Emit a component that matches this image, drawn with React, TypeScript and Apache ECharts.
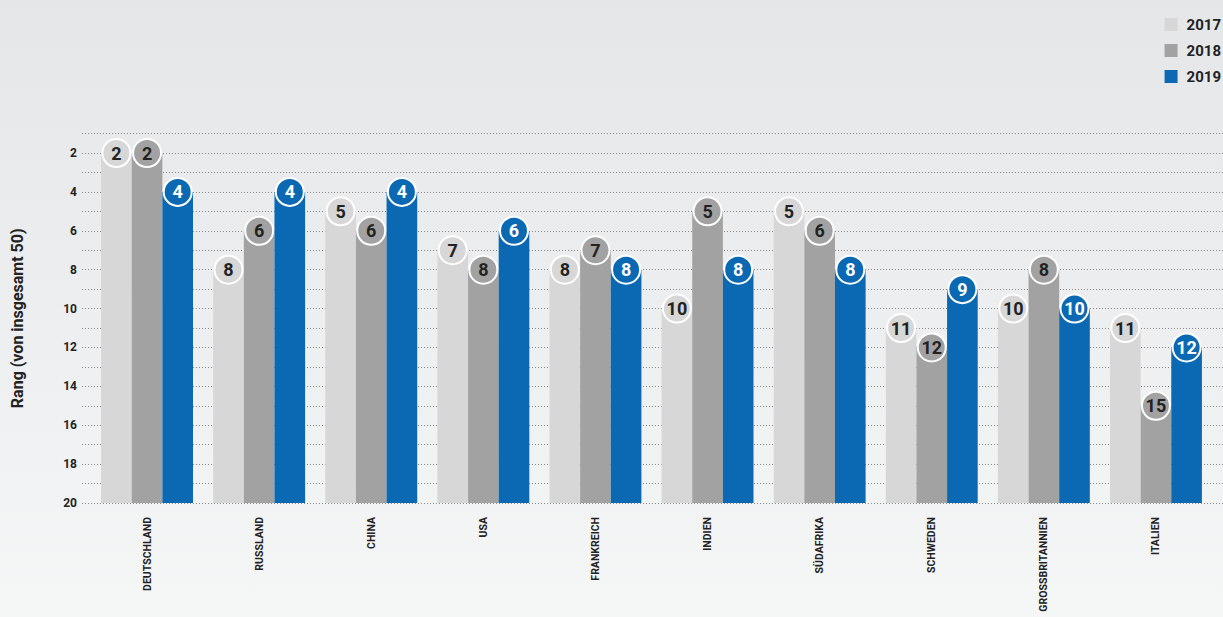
import React, { useEffect, useRef } from "react";
import * as echarts from "echarts";

const categories = ["DEUTSCHLAND", "RUSSLAND", "CHINA", "USA", "FRANKREICH", "INDIEN", "SÜDAFRIKA", "SCHWEDEN", "GROSSBRITANNIEN", "ITALIEN"];
const years = ["2017", "2018", "2019"];
const rank2017 = [2, 8, 5, 7, 8, 10, 5, 11, 10, 11];
const rank2018 = [2, 6, 6, 8, 7, 5, 6, 12, 8, 15];
const rank2019 = [4, 4, 4, 6, 8, 8, 8, 9, 10, 12];
const colors = ["#d7d7d7", "#a2a2a2", "#0b69b4"];
const labelColors = ["#222222", "#222222", "#ffffff"];
const MAX_RANK = 20;

const FONT = "Roboto, 'Liberation Sans', sans-serif";

export default function App() {
  const ref = useRef<HTMLDivElement>(null);
  useEffect(() => {
    if (!ref.current) return;
    const chart = echarts.init(ref.current, null, { renderer: "svg" });
    const ranks = [rank2017, rank2018, rank2019];
    const top = 133.6;
    const bottom = 114;
    const yBase = {
      type: "value",
      min: 0,
      max: MAX_RANK - 1,
      interval: 1,
    };
    chart.setOption({
      animation: false,
      backgroundColor: {
        type: "linear", x: 0, y: 0, x2: 0, y2: 1,
        colorStops: [
          { offset: 0, color: "#e5e6e8" },
          { offset: 1, color: "#f5f6f6" },
        ],
      },
      textStyle: { fontFamily: FONT },
      legend: {
        orient: "vertical",
        right: -3,
        top: 12,
        itemWidth: 13,
        itemHeight: 13,
        itemGap: 11,
        icon: "rect",
        data: years,
        textStyle: { fontFamily: FONT, fontWeight: "bold", fontSize: 15, color: "#222", padding: [0, 0, 0, 4] },
      },
      grid: [
        { left: 82, right: 0, top, bottom, outerBoundsMode: "none" },
        { left: 91, right: 11, top, bottom, outerBoundsMode: "none" },
      ],
      xAxis: [
        { type: "category", gridIndex: 0, data: categories, show: false },
        {
          type: "category",
          gridIndex: 1,
          data: categories,
          axisLine: { show: false },
          axisTick: { show: false },
          axisLabel: {
            rotate: 90,
            margin: 14,
            interval: 0,
            fontFamily: FONT,
            fontWeight: "bold",
            fontSize: 10.5,
            color: "#222",
          },
        },
      ],
      yAxis: [
        {
          ...yBase,
          gridIndex: 0,
          name: "Rang (von insgesamt 50)",
          nameLocation: "middle",
          nameGap: 57,
          nameTextStyle: { fontFamily: FONT, fontWeight: "bold", fontSize: 16, color: "#222" },
          axisLine: { show: false },
          axisTick: { show: false },
          axisLabel: {
            margin: 5,
            fontFamily: FONT,
            fontWeight: "bold",
            fontSize: 12,
            color: "#222",
            formatter: (v: number) => (Math.round(v) % 2 === 0 ? String(MAX_RANK - Math.round(v)) : ""),
          },
          splitLine: { show: true, lineStyle: { color: "#8a8a8a", width: 1, type: [1, 2] } },
        },
        {
          ...yBase,
          gridIndex: 1,
          show: false,
          splitLine: { show: false },
        },
      ],
      series: years.map((y, i) => ({
        name: y,
        type: "bar",
        xAxisIndex: 1,
        yAxisIndex: 1,
        barGap: "0%",
        barCategoryGap: "18%",
        itemStyle: { color: colors[i] },
        data: ranks[i].map((r) => MAX_RANK - r),
        label: {
          show: true,
          position: "top",
          distance: 0,
          formatter: (p: any) => String(ranks[i][p.dataIndex]),
          width: 26,
          height: 26,
          lineHeight: 26,
          align: "center",
          verticalAlign: "middle",
          backgroundColor: colors[i],
          borderColor: "#ffffff",
          borderWidth: 2,
          borderRadius: 16,
          fontFamily: FONT,
          fontWeight: "bold",
          fontSize: 18,
          color: labelColors[i],
        },
      })),
    });
    return () => chart.dispose();
  }, []);
  return <div ref={ref} style={{ position: "absolute", left: 0, top: 0, width: 1223, height: 617 }} />;
}
